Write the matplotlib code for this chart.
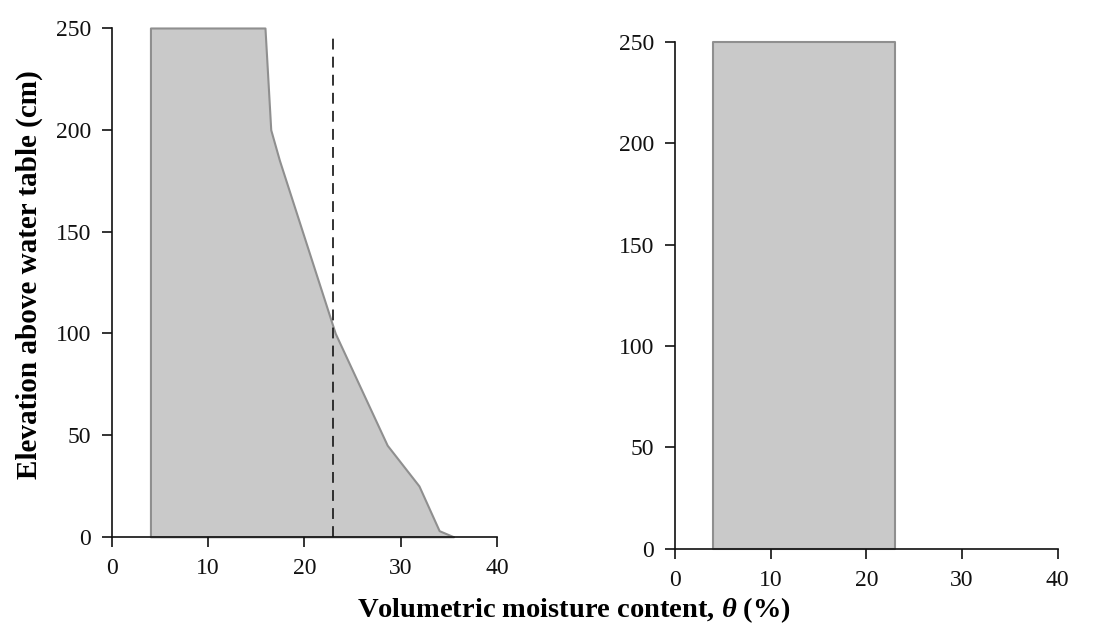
import matplotlib
matplotlib.use("Agg")
import matplotlib.pyplot as plt

plt.rcParams['font.family'] = ['Liberation Serif', 'DejaVu Serif']
plt.rcParams['mathtext.fontset'] = 'custom'
plt.rcParams['mathtext.it'] = 'Liberation Serif:italic:bold'
plt.rcParams['mathtext.bf'] = 'Liberation Serif:bold'

# Left panel: moisture profile (theta range) vs elevation
elev_left = [0, 3, 25, 45, 100, 185, 200, 250]
theta_min_left = [4, 4, 4, 4, 4, 4, 4, 4]
theta_max_left = [35.5, 34.0, 31.9, 28.6, 23.2, 17.4, 16.5, 15.9]
field_capacity = 23.0
dash_elev = [0, 248]

# Right panel: uniform profile
elev_right = [0, 250]
theta_min_right = [4, 4]
theta_max_right = [23, 23]

xticks = [0, 10, 20, 30, 40]
yticks = [0, 50, 100, 150, 200, 250]

fill_c = '#c9c9c9'
edge_c = '#8f8f8f'

fig = plt.figure(figsize=(11.03, 6.36), dpi=100)
axL = fig.add_axes([0.1015, 0.156, 0.349, 0.80])
axR = fig.add_axes([0.612, 0.137, 0.347, 0.797])

axL.fill_betweenx(elev_left, theta_min_left, theta_max_left, facecolor=fill_c,
                  edgecolor=edge_c, linewidth=1.5, clip_on=False)
axL.plot([field_capacity, field_capacity], dash_elev, color='#222222',
         linestyle=(0, (6, 4)), linewidth=1.3, clip_on=False)

axR.fill_betweenx(elev_right, theta_min_right, theta_max_right, facecolor=fill_c,
                  edgecolor=edge_c, linewidth=1.5, clip_on=False)

for ax in (axL, axR):
    ax.set_xlim(0, 40)
    ax.set_ylim(0, 250)
    ax.set_xticks(xticks)
    ax.set_yticks(yticks)
    for s in ('top', 'right'):
        ax.spines[s].set_visible(False)
    for s in ('left', 'bottom'):
        ax.spines[s].set_linewidth(1.2)
        ax.spines[s].set_color('#111111')
    ax.tick_params(direction='out', length=7, width=1.2, labelsize=17,
                   colors='#111111', pad=8)
    ax.set_facecolor('none')

fig.text(0.027, 0.568, 'Elevation above water table (cm)', rotation=90,
         ha='center', va='center', fontsize=21, fontweight='bold')
fig.text(0.52, 0.04, r'Volumetric moisture content, $\mathit{\theta}$ (%)',
         ha='center', va='center', fontsize=20.5, fontweight='bold')

fig.savefig('out.png', dpi=100, facecolor='white')
